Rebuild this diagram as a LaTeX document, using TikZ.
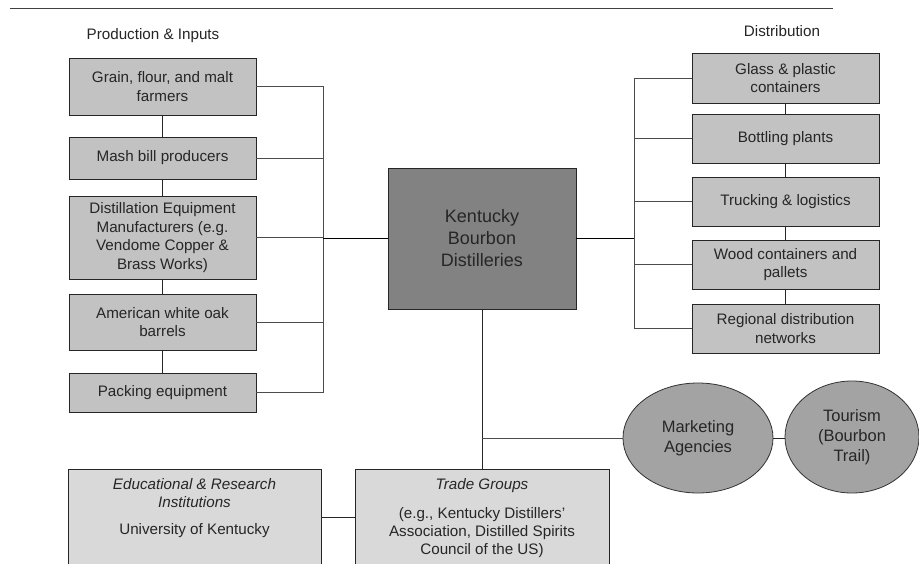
\documentclass[tikz,border=0pt]{standalone}
\usepackage{fontspec}
\setmainfont{Liberation Sans}
\usetikzlibrary{shapes.geometric}
\begin{document}
\begin{tikzpicture}[x=1pt,y=-1pt,
  every node/.style={font=\fontsize{15.2}{18.5}\selectfont, text=black!85},
  box/.style={draw=black!85, line width=0.8pt, fill=gray!48, align=center, inner sep=2pt},
  lowbox/.style={draw=black!85, line width=0.8pt, fill=gray!30},
  hub/.style={draw=black!85, line width=0.8pt, fill=gray!98, align=center, font=\fontsize{18}{22}\selectfont},
  oval/.style={ellipse, draw=black!80, line width=0.8pt, fill=gray!72, align=center, font=\fontsize{16.5}{20}\selectfont, inner sep=0pt},
  bus/.style={draw=black!70, line width=0.8pt},
  main/.style={draw=black, line width=1.3pt},
  link/.style={draw=black!85, line width=0.8pt}]
\useasboundingbox (0,0) rectangle (919,563);
\fill[white] (0,0) rectangle (919,563);
\draw[black!75, line width=0.9pt] (10,8) -- (833,8);

\node (hL) at (153,36) {Production \& Inputs};
\node (hR) at (782,31) {Distribution};

% left column
\node[box, minimum width=187, minimum height=57] (L1) at (162.5,86.5) {Grain, flour, and malt\\farmers};
\node[box, minimum width=187, minimum height=42] (L2) at (162.5,158) {Mash bill producers};
\node[box, minimum width=187, minimum height=83] (L3) at (162.5,237.5) {Distillation Equipment\\Manufacturers (e.g.\\Vendome Copper \&\\Brass Works)};
\node[box, minimum width=187, minimum height=56] (L4) at (162.5,322) {American white oak\\barrels};
\node[box, minimum width=187, minimum height=39] (L5) at (162.5,392.5) {Packing equipment};

% hub
\node[hub, minimum width=188, minimum height=141] (C) at (482,238.5) {Kentucky\\Bourbon\\Distilleries};

% right column
\node[box, minimum width=187, minimum height=50] (R1) at (785.5,78) {Glass \& plastic\\containers};
\node[box, minimum width=187, minimum height=49] (R2) at (785.5,138.5) {Bottling plants};
\node[box, minimum width=187, minimum height=49] (R3) at (785.5,201.5) {Trucking \& logistics};
\node[box, minimum width=187, minimum height=49] (R4) at (785.5,264.5) {Wood containers and\\pallets};
\node[box, minimum width=187, minimum height=49] (R5) at (785.5,328.5) {Regional distribution\\networks};

% ellipses
\node[oval, minimum width=150, minimum height=110] (M) at (698,438) {Marketing\\Agencies};
\node[oval, minimum width=134, minimum height=112] (TR) at (852,437) {Tourism\\(Bourbon\\Trail)};

% bottom boxes
\node[lowbox, minimum width=253, minimum height=96] (E) at (194.5,517) {};
\node[lowbox, minimum width=254, minimum height=96] (T) at (482,517) {};
\node[anchor=north, align=center, inner sep=0pt] (Et) at (194.5,478) {\itshape Educational \& Research\\[0pt]\itshape Institutions\\[8pt]University of Kentucky};
\node[anchor=north, align=center, inner sep=0pt, font=\fontsize{15.2}{18}\selectfont] (Tt) at (482,478) {\itshape Trade Groups\\[11pt](e.g., Kentucky Distillers’\\Association, Distilled Spirits\\Council of the US)};

% coordinates
\coordinate (lb) at (323,238.5);
\coordinate (rb) at (634,238.5);
\coordinate (mj) at (482,438);

% left bus
\foreach \n in {L1,L2,L3,L4,L5} \draw[bus] (\n.east) -| (lb);
\draw[main] (lb) -- (C.west);
\draw[link] (L1.south) -- (L2.north);
\draw[link] (L2.south) -- (L3.north);
\draw[link] (L3.south) -- (L4.north);
\draw[link] (L4.south) -- (L5.north);

% right bus
\foreach \n in {R1,R2,R3,R4,R5} \draw[bus] (\n.west) -| (rb);
\draw[main] (C.east) -- (rb);
\draw[link] (R1.south) -- (R2.north);
\draw[link] (R2.south) -- (R3.north);
\draw[link] (R3.south) -- (R4.north);
\draw[link] (R4.south) -- (R5.north);

% bottom connectors
\draw[link] (C.south) -- (T.north);
\draw[bus] (mj) -- (M.west);
\draw[link] (M.east) -- (TR.west |- M.east);
\draw[link] (E.east) -- (T.west);
\end{tikzpicture}
\end{document}
